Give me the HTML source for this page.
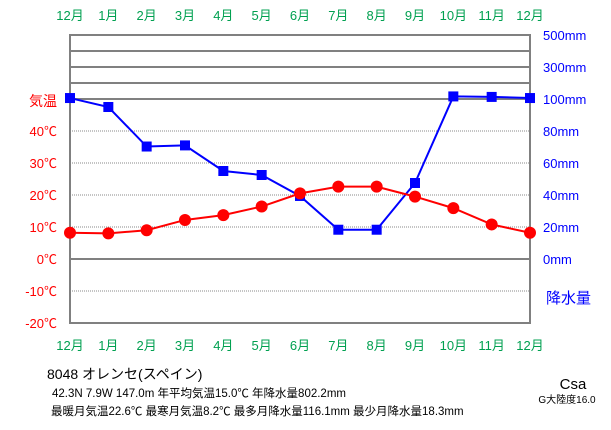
<!DOCTYPE html>
<html><head><meta charset="utf-8"><style>
body{margin:0;background:#fff;width:611px;height:425px;overflow:hidden}
text{font-family:"Liberation Sans","Noto Sans CJK JP",sans-serif}
</style></head><body>
<svg id="c" width="611" height="425" xmlns="http://www.w3.org/2000/svg"></svg>
<script>
const months=["12月","1月","2月","3月","4月","5月","6月","7月","8月","9月","10月","11月","12月"];
const temps=[8.2,8.0,9.0,12.2,13.7,16.4,20.5,22.6,22.6,19.5,15.9,10.8,8.2];
const precip=[106,95,70.3,71,55,52.5,39.4,18.3,18.3,47.5,116.1,113,106];
const tempTicks=[40,30,20,10,0,-10,-20];
const precipTicks=[80,60,40,20,0];
const upperTicks=[500,300,100];
const NS="http://www.w3.org/2000/svg";
const svg=document.getElementById('c');
const L=70,R=530;
function x(i){return L+(R-L)*i/(months.length-1);}
function yT(t){return 259-t*3.2;}
function yP(p){return p<=100?259-p*1.6:99-(p-100)*0.16;}
function mk(tag,attrs,parent){const e=document.createElementNS(NS,tag);for(const k in attrs)e.setAttribute(k,attrs[k]);(parent||svg).appendChild(e);return e;}
// grid dotted
for(const t of [40,30,20,10,-10]){const l=mk('line',{x1:L,x2:R,y1:yT(t),y2:yT(t),stroke:'#888','stroke-dasharray':'1,1','stroke-width':1});

}
for(const v of [200,300,400]){const l=mk('line',{x1:L,x2:R,y1:yP(v),y2:yP(v),stroke:'#808080','stroke-width':2});

}
let z=mk('line',{x1:L,x2:R,y1:yT(0),y2:yT(0),stroke:'#808080','stroke-width':2});


let h=mk('line',{x1:L,x2:R,y1:yP(100),y2:yP(100),stroke:'#808080','stroke-width':2});


let fr=mk('rect',{x:L,y:yP(500),width:R-L,height:yT(-20)-yP(500),fill:'none',stroke:'#808080','stroke-width':2});


// month labels
months.forEach((m,i)=>{for(const yy of [20,350]){const t=mk('text',{x:x(i),y:yy,'text-anchor':'middle','font-size':13,fill:'#00a050'});t.textContent=m;

}});
// temp ticks
tempTicks.forEach(t=>{const e=mk('text',{x:57,y:yT(t)+5,'text-anchor':'end','font-size':13,fill:'#f00'});e.textContent=t+'℃';

});
let tt=mk('text',{x:57,y:yT(50)+7,'text-anchor':'end','font-size':14,fill:'#f00'});tt.textContent='気温';


precipTicks.forEach(p=>{const e=mk('text',{x:543,y:yP(p)+5,'font-size':13,fill:'#00f'});e.textContent=p+'mm';

});
upperTicks.forEach(p=>{const e=mk('text',{x:543,y:yP(p)+5,'font-size':13,fill:'#00f'});e.textContent=p+'mm';

});
let pt=mk('text',{x:546,y:303,'font-size':15,fill:'#00f'});pt.textContent='降水量';


// precip series
let pl=mk('polyline',{points:precip.map((p,i)=>x(i)+','+yP(p)).join(' '),fill:'none',stroke:'#00f','stroke-width':2});


precip.forEach((p,i)=>{const r=mk('rect',{x:x(i)-5,y:yP(p)-5,width:10,height:10,fill:'#00f'});

});
let tl=mk('polyline',{points:temps.map((t,i)=>x(i)+','+yT(t)).join(' '),fill:'none',stroke:'#f00','stroke-width':2});


temps.forEach((t,i)=>{const c=mk('circle',{cx:x(i),cy:yT(t),r:6,fill:'#f00'});

});
// footer
const info=[[47,379,14,'8048  オレンセ(スペイン)','station-name'],[52,397,11.5,'42.3N  7.9W  147.0m 年平均気温15.0℃  年降水量802.2mm','station-info'],[51,415,11.5,'最暖月気温22.6℃ 最寒月気温8.2℃ 最多月降水量116.1mm 最少月降水量18.3mm','station-extremes']];
info.forEach(a=>{const e=mk('text',{x:a[0],y:a[1],'font-size':a[2],fill:'#000'});e.textContent=a[3];

});
let k=mk('text',{x:573,y:389,'text-anchor':'middle','font-size':15,fill:'#000'});k.textContent='Csa';


let g=mk('text',{x:567,y:403,'text-anchor':'middle','font-size':10,fill:'#000'});g.textContent='G大陸度16.0';


</script>
</body></html>
